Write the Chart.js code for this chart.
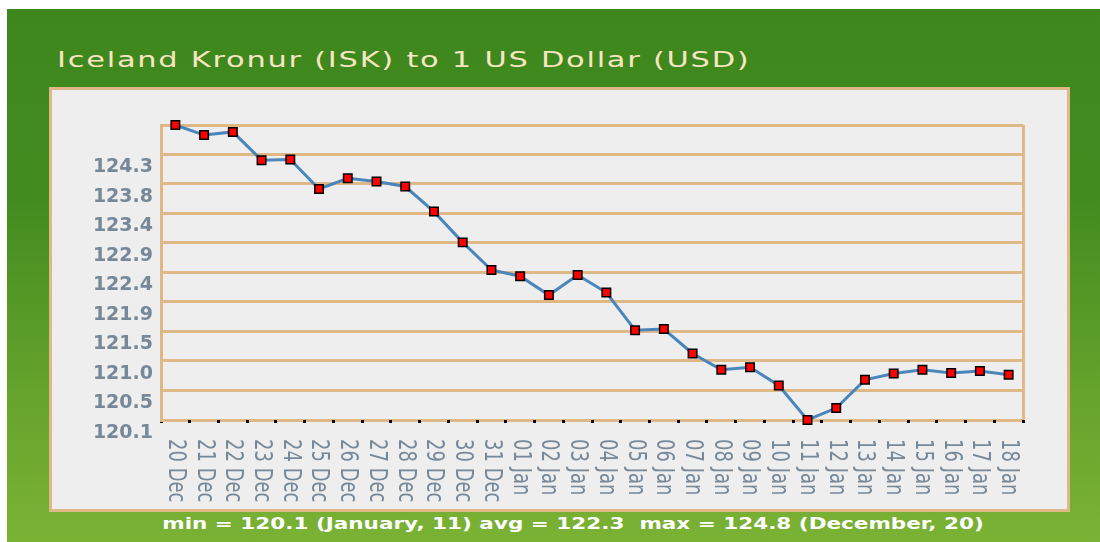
<!DOCTYPE html>
<html>
<head>
<meta charset="utf-8">
<script src="https://cdn.jsdelivr.net/npm/chart.js@4.4.0/dist/chart.umd.min.js"></script>
<style>
  html, body { margin: 0; padding: 0; background: #fff; }
  body { width: 1100px; height: 542px; position: relative; overflow: hidden; font-family: 'DejaVu Sans', Verdana, sans-serif; }
  #bg { position: absolute; left: 7px; top: 9px; width: 1093px; height: 533px;
        background: linear-gradient(to bottom, #3e871d 0%, #428b1f 35%, #68a52d 75%, #7ab234 100%); }
  #panel { position: absolute; left: 49px; top: 87px; width: 1015px; height: 419px;
           background: #eeeeee; border: 3px solid #deb887; }
  #title { position: absolute; left: 57px; top: 50px; font-size: 21px; line-height: 21px;
           color: #f7e6c2; letter-spacing: 1.2px; white-space: pre;
           transform: scaleX(1.45); transform-origin: left center; }
  #foot { position: absolute; left: 573px; top: 516px; font-size: 16px; line-height: 16px;
          font-weight: bold; color: #fff; white-space: pre;
          transform: translateX(-50%) scaleX(1.345); }
  #chart { position: absolute; left: 0; top: 0; }
</style>
</head>
<body>
<div id="bg"></div>
<div id="panel"></div>
<div id="title">Iceland Kronur (ISK) to 1 US Dollar (USD)</div>
<div id="foot">min = 120.1 (January, 11) avg = 122.3  max = 124.8 (December, 20)</div>
<canvas id="chart" width="1100" height="542"></canvas>
<script>
// ISK per 1 USD, daily
const dates = ['20 Dec', '21 Dec', '22 Dec', '23 Dec', '24 Dec', '25 Dec', '26 Dec', '27 Dec',
  '28 Dec', '29 Dec', '30 Dec', '31 Dec', '01 Jan', '02 Jan', '03 Jan', '04 Jan', '05 Jan',
  '06 Jan', '07 Jan', '08 Jan', '09 Jan', '10 Jan', '11 Jan', '12 Jan', '13 Jan', '14 Jan',
  '15 Jan', '16 Jan', '17 Jan', '18 Jan'];

const rates = [124.80, 124.64, 124.69, 124.24, 124.25, 123.78, 123.95, 123.90, 123.82, 123.42,
  122.93, 122.49, 122.39, 122.09, 122.41, 122.13, 121.53, 121.55, 121.16, 120.90,
  120.94, 120.65, 120.10, 120.29, 120.74, 120.84, 120.90, 120.85, 120.88, 120.82];

const yTickValues = [120.1, 120.57, 121.04, 121.51, 121.98, 122.45, 122.92, 123.39, 123.86, 124.33, 124.8];
const yTickLabels = ['120.1', '120.5', '121.0', '121.5', '121.9', '122.4', '122.9', '123.4', '123.8', '124.3', ''];

const tan = '#deb887';
const slate = '#778899';

// rotated (top-to-bottom) date labels under the axis
const xLabels = {
  id: 'xLabels',
  afterDraw(chart) {
    const ctx = chart.ctx;
    const sx = chart.scales.x;
    ctx.save();
    ctx.fillStyle = slate;
    ctx.font = '18px "DejaVu Sans"';
    ctx.textAlign = 'left';
    ctx.textBaseline = 'middle';
    dates.forEach((d, i) => {
      ctx.save();
      ctx.translate(sx.getPixelForValue(i), 439);
      ctx.scale(1.4, 1);
      ctx.rotate(Math.PI / 2);
      ctx.fillText(d, 0, 0);
      ctx.restore();
    });
    ctx.restore();
  }
};

new Chart(document.getElementById('chart'), {
  type: 'line',
  data: {
    labels: dates,
    datasets: [{
      data: rates,
      borderColor: '#4a86bb',
      borderWidth: 3,
      tension: 0,
      clip: false,
      pointStyle: 'rect',
      pointRadius: 6,
      pointBackgroundColor: '#ff0000',
      pointBorderColor: '#000',
      pointBorderWidth: 1.5
    }]
  },
  options: {
    responsive: false,
    animation: false,
    layout: { padding: { left: 0, top: 125, right: 77, bottom: 0 } },
    plugins: { legend: { display: false }, tooltip: { enabled: false } },
    scales: {
      x: {
        offset: true,
        afterFit: s => { s.height = 122; },
        border: { display: false },
        grid: {
          z: 0,
          offset: true,
          // only the two outer boundaries get a vertical line; the last one has no tick index
          color: c => (c.index === 0 || c.index === undefined) ? tan : 'rgba(0,0,0,0)',
          lineWidth: 3,
          tickColor: '#000',
          tickWidth: 3,
          tickLength: 3
        },
        ticks: { display: false }
      },
      y: {
        min: 120.1,
        max: 124.8,
        afterBuildTicks: s => { s.ticks = yTickValues.map(v => ({ value: v })); },
        afterFit: s => { s.width = 161; },
        border: { display: true, color: tan, width: 3 },
        grid: { color: tan, lineWidth: 3, drawTicks: false },
        ticks: {
          callback: (v, i) => yTickLabels[i],
          labelOffset: 13,
          padding: 8,
          color: slate,
          font: { family: 'DejaVu Sans', size: 19, weight: 'bold' }
        }
      }
    }
  },
  plugins: [xLabels]
});
</script>
</body>
</html>
